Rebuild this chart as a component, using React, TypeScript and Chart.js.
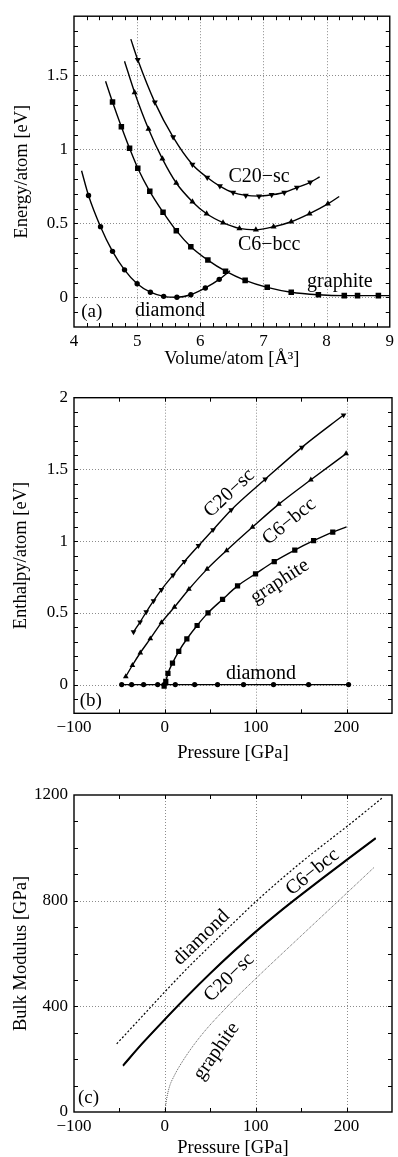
import React, { useEffect, useRef } from "react";
import { Chart, registerables } from "chart.js";

Chart.register(...registerables);

const SERIF = "'Liberation Serif', 'Times New Roman', Times, serif";
type P = [number, number];

// ---------------- Panel (a): Energy/atom vs Volume/atom ----------------
const aDiamondMarks: P[] = [[4.23, 0.689], [4.42, 0.478], [4.61, 0.311], [4.80, 0.186], [5.00, 0.092], [5.21, 0.035], [5.42, 0.007], [5.63, 0.001], [5.85, 0.018], [6.08, 0.064], [6.30, 0.122]];
const aDiamondEnds: P[] = [[4.12, 0.856], [6.47, 0.18]];
const aGraphiteMarks: P[] = [[4.61, 1.32], [4.75, 1.153], [4.88, 1.007], [5.01, 0.873], [5.20, 0.717], [5.41, 0.576], [5.62, 0.451], [5.85, 0.343], [6.12, 0.252], [6.40, 0.177], [6.71, 0.115], [7.06, 0.068], [7.44, 0.035], [7.87, 0.018], [8.28, 0.012], [8.49, 0.012], [8.82, 0.012]];
const aGraphiteEnds: P[] = [[4.50, 1.46], [9.0, 0.012]];
const aC6Marks: P[] = [[4.96, 1.385], [5.18, 1.138], [5.40, 0.936], [5.62, 0.773], [5.875, 0.647], [6.10, 0.565], [6.36, 0.505], [6.62, 0.466], [6.88, 0.457], [7.16, 0.477], [7.44, 0.511], [7.73, 0.566], [8.02, 0.632]];
const aC6Ends: P[] = [[4.80, 1.596], [8.20, 0.682]];
const aC20Marks: P[] = [[5.01, 1.605], [5.28, 1.318], [5.57, 1.083], [5.875, 0.898], [6.11, 0.81], [6.31, 0.752], [6.52, 0.708], [6.72, 0.689], [6.93, 0.684], [7.13, 0.693], [7.33, 0.709], [7.53, 0.742], [7.74, 0.778]];
const aC20Ends: P[] = [[4.90, 1.745], [7.89, 0.814]];
const aXLabels = [4, 5, 6, 7, 8, 9];
const aYLabels = [0, 0.5, 1, 1.5];

// ---------------- Panel (b): Enthalpy/atom vs Pressure ----------------
const bDiamondMarks: P[] = [[-47.5, 0], [-36.6, 0], [-23.4, 0], [-7.9, 0], [-0.8, 0], [11.5, 0], [32.8, 0], [58, 0], [86.6, 0], [119.6, 0], [158.2, 0], [202.2, 0]];
const bGraphiteMarks: P[] = [[-0.8, -0.01], [1, 0.023], [3.4, 0.078], [8.4, 0.15], [15.3, 0.232], [24.2, 0.318], [35.5, 0.412], [47.5, 0.5], [63.5, 0.594], [80, 0.688], [99.8, 0.772], [120.4, 0.858], [143, 0.938], [163.7, 1.003], [184.8, 1.063]];
const bGraphiteEnd: P = [200, 1.1];
const bC6Marks: P[] = [[-43, 0.056], [-35.7, 0.135], [-27, 0.222], [-16, 0.32], [-3.8, 0.432], [10.6, 0.541], [26.5, 0.665], [46.5, 0.805], [68, 0.935], [96.5, 1.098], [125.5, 1.258], [160.7, 1.428], [199.5, 1.61]];
const bC20Marks: P[] = [[-34.5, 0.367], [-27.3, 0.436], [-20.5, 0.506], [-12.5, 0.583], [-3.8, 0.662], [9, 0.763], [21.5, 0.858], [37, 0.968], [53, 1.079], [73, 1.218], [110.5, 1.432], [150.8, 1.654], [196.7, 1.879]];
const bXLabels = [-100, 0, 100, 200];
const bYLabels = [0, 0.5, 1, 1.5, 2];

// ---------------- Panel (c): Bulk modulus vs Pressure ----------------
const cDiamond: P[] = [[-53, 258], [-25, 362], [0, 455], [25, 545], [50, 630], [75, 714], [100, 796], [150, 945], [200, 1080], [239, 1188]];
const cC6: P[] = [[-46, 177], [-25, 260], [0, 352], [25, 441], [50, 526], [75, 607], [100, 684], [125, 756], [150, 824], [175, 890], [200, 955], [232, 1038]];
const cC20: P[] = [[-46, 174], [-25, 257], [0, 349], [25, 438], [50, 523], [75, 604], [100, 681], [125, 753], [150, 821], [175, 887], [200, 952], [232, 1035]];
const cGraphite: P[] = [[0, 0], [2, 50], [5, 95], [10, 135], [21, 200], [40, 290], [69, 400], [100, 505], [150, 667], [200, 828], [230, 925]];
const cXLabels = [-100, 0, 100, 200];
const cYLabels = [0, 400, 800, 1200];

type Ann = { text: string; x: number; y: number; rot: number; size: number };

const aAnns: Ann[] = [
  { text: "C20\u2212sc", x: 6.93, y: 0.818, rot: 0, size: 20 },
  { text: "C6\u2212bcc", x: 7.09, y: 0.356, rot: 0, size: 20 },
  { text: "graphite", x: 8.21, y: 0.107, rot: 0, size: 20 },
  { text: "diamond", x: 5.52, y: -0.089, rot: 0, size: 20 },
  { text: "(a)", x: 4.28, y: -0.1, rot: 0, size: 19 },
];
const bAnns: Ann[] = [
  { text: "C20\u2212sc", x: 71, y: 1.334, rot: -43, size: 20 },
  { text: "C6\u2212bcc", x: 136.9, y: 1.137, rot: -39, size: 20 },
  { text: "graphite", x: 126.5, y: 0.719, rot: -33, size: 20 },
  { text: "diamond", x: 105.7, y: 0.074, rot: 0, size: 20 },
  { text: "(b)", x: -81.6, y: -0.116, rot: 0, size: 19 },
];
const cAnns: Ann[] = [
  { text: "diamond", x: 40.3, y: 660, rot: -44, size: 20 },
  { text: "C20\u2212sc", x: 70.8, y: 509, rot: -44, size: 20 },
  { text: "C6\u2212bcc", x: 162.6, y: 908, rot: -39, size: 20 },
  { text: "graphite", x: 56.8, y: 230, rot: -55, size: 20 },
  { text: "(c)", x: -84, y: 53, rot: 0, size: 19 },
];

type Panel = {
  top: number; H: number; areaTop: number; areaBottom: number;
  xMin: number; xMax: number; yMin: number; yMax: number;
  xLabels: number[]; yLabels: number[]; xMinor: number; yMinor: number;
  xTitle: string; yTitle: string; xTitlePad: number; yTitlePad: number; xTickPad: number;
  datasets: any[]; anns: Ann[];
};

const toXY = (pts: P[]) => pts.map(([x, y]) => ({ x, y }));

function markerSeries(marks: P[], start: P | null, end: P | null, style: string, r: number, rot = 0) {
  const pts: P[] = [...(start ? [start] : []), ...marks, ...(end ? [end] : [])];
  const radii = pts.map((_, i) => ((start && i === 0) || (end && i === pts.length - 1) ? 0 : r));
  return {
    data: toXY(pts),
    borderColor: "#000",
    backgroundColor: "#000",
    borderWidth: 1.4,
    pointRadius: radii,
    pointHoverRadius: radii,
    pointStyle: style,
    pointRotation: rot,
    pointBorderWidth: 0,
    pointBackgroundColor: "#000",
    cubicInterpolationMode: "monotone",
  };
}

function plainLine(pts: P[], width: number, dash: number[], color = "#000") {
  return {
    data: toXY(pts),
    borderColor: color,
    borderWidth: width,
    borderDash: dash,
    pointRadius: 0,
    cubicInterpolationMode: "monotone",
  };
}

const fmt = (v: number) => String(v).replace("-", "\u2212");

const panels: Panel[] = [
  {
    top: 0, H: 372, areaTop: 12, areaBottom: 327,
    xMin: 4, xMax: 9, yMin: -0.2, yMax: 1.9,
    xLabels: aXLabels, yLabels: aYLabels, xMinor: 0.2, yMinor: 0.1,
    xTitle: "Volume/atom [\u00C5\u00B3]", yTitle: "Energy/atom [eV]", xTitlePad: 4, yTitlePad: 13, xTickPad: 4,
    datasets: [
      markerSeries(aDiamondMarks, aDiamondEnds[0], aDiamondEnds[1], "circle", 2.7),
      markerSeries(aGraphiteMarks, aGraphiteEnds[0], aGraphiteEnds[1], "rect", 3.9),
      markerSeries(aC6Marks, aC6Ends[0], aC6Ends[1], "triangle", 3.5),
      markerSeries(aC20Marks, aC20Ends[0], aC20Ends[1], "triangle", 3.5, 180),
    ],
    anns: aAnns,
  },
  {
    top: 372, H: 393, areaTop: 25.7, areaBottom: 341.3,
    xMin: -100, xMax: 250, yMin: -0.2, yMax: 2,
    xLabels: bXLabels, yLabels: bYLabels, xMinor: 50, yMinor: 0.1,
    xTitle: "Pressure [GPa]", yTitle: "Enthalpy/atom [eV]", xTitlePad: 3, yTitlePad: 12, xTickPad: 4,
    datasets: [
      markerSeries(bDiamondMarks, null, null, "circle", 2.6),
      markerSeries(bGraphiteMarks, null, bGraphiteEnd, "rect", 3.7),
      markerSeries(bC6Marks, null, null, "triangle", 3.3),
      markerSeries(bC20Marks, null, null, "triangle", 3.3, 180),
    ],
    anns: bAnns,
  },
  {
    top: 765, H: 392, areaTop: 30, areaBottom: 347,
    xMin: -100, xMax: 250, yMin: 0, yMax: 1200,
    xLabels: cXLabels, yLabels: cYLabels, xMinor: 50, yMinor: 100,
    xTitle: "Pressure [GPa]", yTitle: "Bulk Modulus [GPa]", xTitlePad: 0, yTitlePad: 12, xTickPad: 4,
    datasets: [
      plainLine(cDiamond, 1.2, [2, 2]),
      plainLine(cC20, 1.4, []),
      plainLine(cC6, 1.6, []),
      plainLine(cGraphite, 0.8, [1, 1], "#333"),
    ],
    anns: cAnns,
  },
];

function decorPlugin(p: Panel) {
  return {
    id: "decor",
    beforeDatasetsDraw(chart: any) {
      const { ctx, chartArea: a, scales } = chart;
      const xs = scales.x, ys = scales.y;
      ctx.save();
      ctx.strokeStyle = "#8c8c8c";
      ctx.lineWidth = 1;
      ctx.setLineDash([1, 2]);
      for (const v of p.xLabels) {
        if (v <= p.xMin || v >= p.xMax) continue;
        const px = Math.round(xs.getPixelForValue(v)) + 0.5;
        ctx.beginPath(); ctx.moveTo(px, a.top); ctx.lineTo(px, a.bottom); ctx.stroke();
      }
      for (const v of p.yLabels) {
        if (v <= p.yMin || v >= p.yMax) continue;
        const py = Math.round(ys.getPixelForValue(v)) + 0.5;
        ctx.beginPath(); ctx.moveTo(a.left, py); ctx.lineTo(a.right, py); ctx.stroke();
      }
      ctx.restore();
    },
    afterDatasetsDraw(chart: any) {
      const { ctx, chartArea: a, scales } = chart;
      const xs = scales.x, ys = scales.y;
      ctx.save();
      ctx.setLineDash([]);
      ctx.strokeStyle = "#000";
      ctx.lineWidth = 1;
      const L = 4;
      const nx = Math.round((p.xMax - p.xMin) / p.xMinor);
      for (let i = 1; i < nx; i++) {
        const px = Math.round(xs.getPixelForValue(p.xMin + i * p.xMinor)) + 0.5;
        ctx.beginPath();
        ctx.moveTo(px, a.bottom); ctx.lineTo(px, a.bottom - L);
        ctx.moveTo(px, a.top); ctx.lineTo(px, a.top + L);
        ctx.stroke();
      }
      const ny = Math.round((p.yMax - p.yMin) / p.yMinor);
      for (let i = 1; i < ny; i++) {
        const py = Math.round(ys.getPixelForValue(p.yMin + i * p.yMinor)) + 0.5;
        ctx.beginPath();
        ctx.moveTo(a.left, py); ctx.lineTo(a.left + L, py);
        ctx.moveTo(a.right, py); ctx.lineTo(a.right - L, py);
        ctx.stroke();
      }
      ctx.lineWidth = 1.4;
      ctx.strokeRect(a.left, a.top, a.right - a.left, a.bottom - a.top);
      ctx.fillStyle = "#000";
      ctx.textAlign = "center";
      ctx.textBaseline = "middle";
      for (const an of p.anns) {
        ctx.save();
        ctx.font = `${an.size}px ${SERIF}`;
        ctx.translate(xs.getPixelForValue(an.x), ys.getPixelForValue(an.y));
        ctx.rotate((an.rot * Math.PI) / 180);
        ctx.fillText(an.text, 0, 0);
        ctx.restore();
      }
      ctx.restore();
    },
  };
}

function PanelChart({ p }: { p: Panel }) {
  const ref = useRef<HTMLCanvasElement | null>(null);
  useEffect(() => {
    if (!ref.current) return;
    const chart = new Chart(ref.current, {
      type: "line",
      data: { datasets: p.datasets.map((d) => ({ ...d })) },
      plugins: [decorPlugin(p)],
      options: {
        animation: false,
        responsive: false,
        devicePixelRatio: 1,
        events: [],
        layout: { padding: { top: p.areaTop, right: 6, left: 0, bottom: 0 } },
        plugins: { legend: { display: false }, tooltip: { enabled: false }, title: { display: false } },
        scales: {
          x: {
            type: "linear",
            min: p.xMin,
            max: p.xMax,
            grid: { display: false, drawTicks: false },
            border: { display: false },
            afterBuildTicks: (s: any) => { s.ticks = p.xLabels.map((v) => ({ value: v })); },
            afterFit: (s: any) => { s.height = p.H - p.areaBottom; },
            ticks: {
              autoSkip: false, maxRotation: 0, padding: p.xTickPad, color: "#000",
              font: { family: SERIF, size: 17 },
              callback: (v: any) => fmt(Number(v)),
            },
            title: {
              display: true, text: p.xTitle, color: "#000",
              font: { family: SERIF, size: 18.5, lineHeight: 1 },
              padding: { top: 0, bottom: p.xTitlePad },
            },
          },
          y: {
            type: "linear",
            min: p.yMin,
            max: p.yMax,
            grid: { display: false, drawTicks: false },
            border: { display: false },
            afterBuildTicks: (s: any) => { s.ticks = p.yLabels.map((v) => ({ value: v })); },
            afterFit: (s: any) => { s.width = 74; },
            ticks: {
              autoSkip: false, padding: 6, color: "#000",
              font: { family: SERIF, size: 17 },
              callback: (v: any) => fmt(Number(v)),
            },
            title: {
              display: true, text: p.yTitle, color: "#000",
              font: { family: SERIF, size: 18.5, lineHeight: 1 },
              padding: { top: p.yTitlePad, bottom: 0 },
            },
          },
        },
      } as any,
    });
    return () => chart.destroy();
  }, [p]);
  return (
    <canvas
      ref={ref}
      width={398}
      height={p.H}
      style={{ position: "absolute", left: 0, top: p.top, width: 398, height: p.H, display: "block" }}
    />
  );
}

export default function App() {
  return (
    <div style={{ position: "absolute", left: 0, top: 0, width: 398, height: 1157, background: "#fff", overflow: "hidden" }}>
      {panels.map((p, i) => (
        <PanelChart key={i} p={p} />
      ))}
    </div>
  );
}
